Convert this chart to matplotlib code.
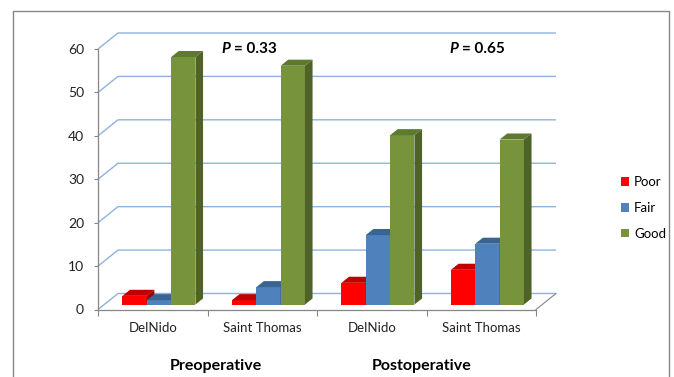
import matplotlib
matplotlib.use("Agg")
import matplotlib.pyplot as plt
from matplotlib.patches import Polygon, Patch, Rectangle

# ---- data -------------------------------------------------------------
categories = ["DelNido", "Saint Thomas", "DelNido", "Saint Thomas"]
groups = ["Preoperative", "Postoperative"]
p_values = ["0.33", "0.65"]
series = ["Poor", "Fair", "Good"]
poor = [2, 1, 5, 8]
fair = [1, 4, 16, 14]
good = [57, 55, 39, 38]
yticks = [0, 10, 20, 30, 40, 50, 60]

# ---- style ------------------------------------------------------------
plt.rcParams["font.family"] = ["Lato", "DejaVu Sans"]
front_cols = ["#FF0000", "#4F81BD", "#77933C"]
top_cols = ["#C00000", "#3A6592", "#5E7A2E"]
side_cols = ["#A00000", "#2F5480", "#4F6228"]
grid_col = "#8EB2DE"
axis_col = "#868686"

W, H = 674, 377
fig = plt.figure(figsize=(W / 100, H / 100), dpi=100)

# outer chart frame
fig.patches.append(Rectangle((13 / W, -0.02), 656 / W, 1 - 11 / H + 0.02,
                             transform=fig.transFigure, fill=False,
                             edgecolor=axis_col, linewidth=1.0, zorder=0))

# front plane of the 3-D plot area
x0, x1, y0, y1 = 98, 536, 309.5, 49
ax = fig.add_axes([x0 / W, 1 - y0 / H, (x1 - x0) / W, (y0 - y1) / H])
ax.set_xlim(0, len(categories))
ax.set_ylim(0, 60)
ax.patch.set_visible(False)

# oblique depth vector (data units)
px_per_cat = (x1 - x0) / len(categories)
px_per_val = (y0 - y1) / 60
DX = 20 / px_per_cat
DY = 16 / px_per_val

# back wall gridlines and left wall diagonals
for v in yticks:
    ax.plot([0, DX, len(categories) + DX], [v, v + DY, v + DY],
            color=grid_col, lw=1.0, zorder=1, clip_on=False,
            solid_capstyle="butt")
# right edge of the floor
ax.plot([len(categories), len(categories) + DX], [0, DY],
        color=axis_col, lw=0.8, zorder=1, clip_on=False)

# bars
f0, f1 = 0.31, 0.69          # bar front / back depth fraction
bw = (2 / 3) / len(series)
fdx, fdy = f0 * DX, f0 * DY
ddx, ddy = (f1 - f0) * DX, (f1 - f0) * DY
values = [poor, fair, good]
for c in range(len(categories)):
    for i, vals in enumerate(values):
        v = vals[c]
        z = 3 + c * 3 + i
        left = c + 0.5 - 1 / 3 + i * bw + fdx
        ax.bar(left, v, width=bw, bottom=fdy, align="edge",
               color=front_cols[i], linewidth=0, zorder=z)
        top = fdy + v
        ax.add_patch(Polygon([[left, top], [left + bw, top],
                              [left + bw + ddx, top + ddy],
                              [left + ddx, top + ddy]],
                             closed=True, facecolor=top_cols[i],
                             linewidth=0, zorder=z, clip_on=False))
        ax.add_patch(Polygon([[left + bw, fdy], [left + bw + ddx, fdy + ddy],
                              [left + bw + ddx, top + ddy], [left + bw, top]],
                             closed=True, facecolor=side_cols[i],
                             linewidth=0, zorder=z, clip_on=False))

# axes
for s in ["top", "right"]:
    ax.spines[s].set_visible(False)
for s in ["left", "bottom"]:
    ax.spines[s].set_color(axis_col)
    ax.spines[s].set_linewidth(0.9)
ax.set_yticks(yticks)
ax.tick_params(axis="y", length=3, width=0.8, color=axis_col, pad=7,
               labelsize=10, labelcolor="#222222")
ax.set_xticks(range(len(categories) + 1))
ax.set_xticklabels([])
ax.set_xticks([c + 0.5 for c in range(len(categories))], minor=True)
ax.set_xticklabels(categories, minor=True)
ax.tick_params(axis="x", which="major", length=4, width=0.8, color=axis_col)
ax.tick_params(axis="x", which="minor", length=0, pad=9, labelsize=9.5,
               labelcolor="#222222")

# group titles and p-values
group_x = [216, 422]
for gx, g in zip(group_x, groups):
    fig.text(gx / W, 1 - 366 / H, g, ha="center", va="center",
             fontsize=11.5, fontweight="bold")
p_x = [230, 458]
for px, p in zip(p_x, p_values):
    fig.text(px / W, 1 - 49 / H, "P", ha="right", va="center",
             fontsize=11, fontweight="bold", fontstyle="italic")
    fig.text((px + 4) / W, 1 - 49 / H, "= " + p, ha="left", va="center",
             fontsize=11, fontweight="bold")

# legend
handles = [Patch(facecolor=c, edgecolor="none") for c in front_cols]
fig.legend(handles, series, loc="center left",
           bbox_to_anchor=(609 / W, 1 - 208 / H), frameon=False,
           fontsize=9.5, handlelength=0.6, handleheight=0.6,
           handletextpad=0.4, labelspacing=1.05)

fig.savefig("out.png", dpi=100)
